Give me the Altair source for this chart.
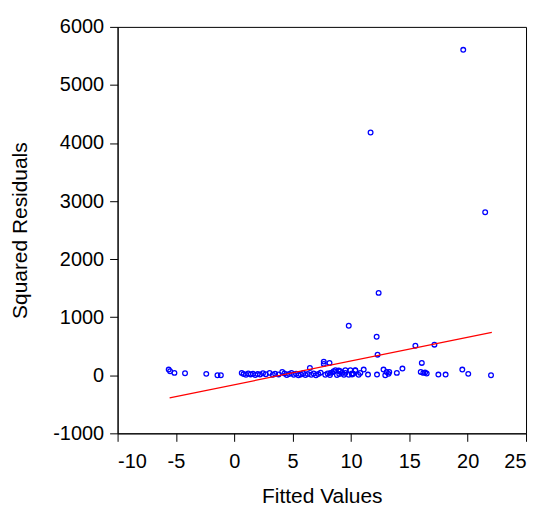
import altair as alt
import pandas as pd

fitted = [-5.62, -5.5, -5.13, -4.22, -2.4, -1.44, -1.15,
          0.64, 0.8, 1.0, 1.2, 1.4, 1.6, 1.8, 2.0, 2.2, 2.46, 2.7, 3.03, 3.3, 3.5, 3.8,
          4.11, 4.3, 4.5, 4.7, 4.9, 5.1, 5.3, 5.5, 5.7, 5.9, 6.1, 6.3, 6.48, 6.6, 6.8,
          7.0, 7.2, 7.4, 7.67, 7.67, 8.16, 7.8, 8.0, 8.2, 8.24, 8.4, 8.52, 8.67, 8.8,
          8.95, 9.0, 9.09, 9.24, 9.4, 9.52, 9.52, 9.81, 9.81, 9.95, 10.09, 10.09, 10.2,
          10.37, 10.37, 10.66, 10.8, 11.09, 11.46, 11.68, 12.2, 12.23, 12.28, 12.37,
          12.79, 12.94, 13.05, 13.22, 13.28, 13.93, 14.41, 15.52, 15.98, 16.07, 16.2,
          16.35, 16.49, 17.15, 17.49, 18.11, 19.54, 19.62, 20.05, 21.5, 22.0]
sq_resid = [98, 69, 41, 34, 24, 0, 0,
            41, 20, 10, 30, 15, 25, 5, 20, 12, 34, 18, 41, 10, 25, 15,
            58, 30, 5, 20, 40, 10, 25, 0, 15, 35, 5, 20, 127, 10, 30,
            0, 20, 45, 235, 196, 213, 10, 30, 5, 41, 50, 69, 86, 5,
            81, 20, 69, 41, 10, 86, 41, 7, 853, 86, 12, 30, 25,
            86, 81, 7, 41, 98, 12, 4181, 664, 12, 355, 1419,
            98, 0, 58, 24, 58, 41, 115, 510, 58, 213, 41,
            46, 29, 527, 12, 12, 98, 5605, 24, 2808, 0]

line_x = [-5.54, 22.07]
line_y = [-388, 738]

x_ticks = [-10, -5, 0, 5, 10, 15, 20, 25]
y_ticks = [-1000, 0, 1000, 2000, 3000, 4000, 5000, 6000]

pts = pd.DataFrame({"x": fitted, "y": sq_resid})
ln = pd.DataFrame({"x": line_x, "y": line_y})

xscale = alt.Scale(domain=[-10, 25], nice=False, zero=False)
yscale = alt.Scale(domain=[-1000, 6000], nice=False, zero=False)

xaxis = alt.Axis(title="Fitted Values", values=x_ticks, grid=False,
                 tickSize=8, labelPadding=10, titlePadding=14,
                 labelExpr="'' + datum.value")
yaxis = alt.Axis(title="Squared Residuals", values=y_ticks, grid=False,
                 tickSize=8, labelPadding=6, titlePadding=22,
                 labelExpr="'' + datum.value")

scatter = alt.Chart(pts).mark_point(shape="circle", filled=False, color="#0000FF",
                                     size=22, strokeWidth=1.3, opacity=1).encode(
    x=alt.X("x:Q", scale=xscale, axis=xaxis),
    y=alt.Y("y:Q", scale=yscale, axis=yaxis),
)

line = alt.Chart(ln).mark_line(color="#FF0000", strokeWidth=1.2).encode(
    x=alt.X("x:Q", scale=xscale),
    y=alt.Y("y:Q", scale=yscale),
)

chart = alt.layer(scatter, line).properties(
    width=410, height=408,
    background="white",
    autosize=alt.AutoSizeParams(type="none"),
    padding={"left": 110, "top": 18, "right": 5, "bottom": 75},
).configure_view(
    stroke="black", strokeWidth=1
).configure_axis(
    domainColor="black", tickColor="black", labelColor="black", titleColor="black",
    labelFont="Liberation Sans", titleFont="Liberation Sans",
    labelFontSize=20, titleFontSize=21, titleFontWeight="normal",
    domainWidth=1, tickWidth=1,
)

chart.save("out.html", embed_options={"renderer": "svg", "actions": False})
